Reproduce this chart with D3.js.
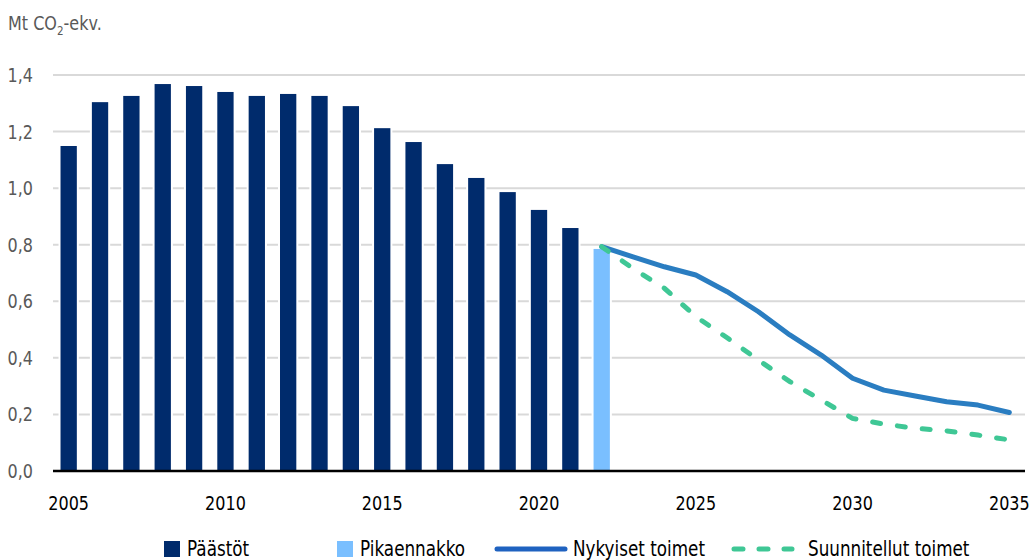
<!DOCTYPE html>
<html>
<head>
<meta charset="utf-8">
<script src="https://cdn.jsdelivr.net/npm/d3@7"></script>
<style>
  html, body { margin: 0; padding: 0; background: #fff; }
  svg { display: block; font-family: "DejaVu Sans", sans-serif; }
</style>
</head>
<body>
<div id="chart"></div>
<script>
// years on the x axis
const years = d3.range(2005, 2036);
const xTickYears = [2005, 2010, 2015, 2020, 2025, 2030, 2035];
const yTicks = [0, 0.2, 0.4, 0.6, 0.8, 1.0, 1.2, 1.4];

// Päästöt (historical emissions), 2005-2021
const emissionYears = d3.range(2005, 2022);
const emissions = [1.149, 1.304, 1.326, 1.368, 1.361, 1.340, 1.326, 1.333, 1.326,
                   1.290, 1.212, 1.163, 1.085, 1.036, 0.986, 0.923, 0.859];

// Pikaennakko (flash estimate)
const flashYears = [2022];
const flash = [0.785];

// scenarios 2022-2035
const scenarioYears = d3.range(2022, 2036);
const current = [0.793, 0.757, 0.722, 0.693, 0.634, 0.563, 0.481, 0.410,
                 0.328, 0.286, 0.265, 0.245, 0.233, 0.207];
const planned = [0.793, 0.716, 0.646, 0.546, 0.471, 0.392, 0.316, 0.251,
                 0.186, 0.166, 0.151, 0.142, 0.127, 0.110];

const width = 1033, height = 560;
const plot = { left: 53, right: 1025, top: 75, bottom: 471 };
const squeeze = 0.8; // no condensed font installed, so narrow the glyphs by hand

const svg = d3.select("#chart").append("svg")
  .attr("width", width)
  .attr("height", height);

const x = d3.scaleBand()
  .domain(years)
  .range([plot.left, plot.right])
  .paddingInner(0.48)
  .paddingOuter(0.24);

const y = d3.scaleLinear()
  .domain([0, 1.4])
  .range([plot.bottom, plot.top]);

const cx = yr => x(yr) + x.bandwidth() / 2;
const narrow = (tx, ty) => `translate(${tx},${ty}) scale(${squeeze},1)`;

// gridlines
svg.append("g")
  .selectAll("line")
  .data(yTicks.filter(d => d > 0))
  .enter().append("line")
  .attr("x1", plot.left)
  .attr("x2", plot.right)
  .attr("y1", d => y(d))
  .attr("y2", d => y(d))
  .attr("stroke", "#d9d9d9")
  .attr("stroke-width", 2);

// y labels
svg.append("g")
  .selectAll("text")
  .data(yTicks)
  .enter().append("text")
  .attr("transform", d => narrow(33, y(d)))
  .attr("dy", "0.35em")
  .attr("text-anchor", "end")
  .attr("fill", "#595959")
  .attr("font-size", "20px")
  .text(d => d3.format(".1f")(d).replace(".", ","));

// unit label
const unit = svg.append("text")
  .attr("transform", narrow(8, 30))
  .attr("fill", "#595959")
  .attr("font-size", "20px");
unit.append("tspan").text("Mt CO");
unit.append("tspan").attr("font-size", "13px").attr("dy", 5).text("2");
unit.append("tspan").attr("dy", -5).text("-ekv.");

// bars
function drawBars(yrs, vals, color) {
  const g = svg.append("g");
  const data = yrs.map((yr, i) => ({ yr, v: vals[i] }));
  // white halo that breaks gridlines around each bar
  g.selectAll("rect.halo")
    .data(data)
    .enter().append("rect")
    .attr("class", "halo")
    .attr("x", d => x(d.yr) - 2)
    .attr("y", d => y(d.v) - 2)
    .attr("width", x.bandwidth() + 4)
    .attr("height", d => y(0) - y(d.v) + 2)
    .attr("fill", "#fff");
  g.selectAll("rect.bar")
    .data(data)
    .enter().append("rect")
    .attr("class", "bar")
    .attr("x", d => x(d.yr))
    .attr("y", d => y(d.v))
    .attr("width", x.bandwidth())
    .attr("height", d => y(0) - y(d.v))
    .attr("fill", color);
}
drawBars(emissionYears, emissions, "#002b6c");
drawBars(flashYears, flash, "#7abfff");

// scenario lines
const line = d3.line()
  .x(d => cx(d.yr))
  .y(d => y(d.v));

svg.append("path")
  .datum(scenarioYears.map((yr, i) => ({ yr, v: current[i] })))
  .attr("d", line)
  .attr("fill", "none")
  .attr("stroke", "#2a7dc1")
  .attr("stroke-width", 5)
  .attr("stroke-linejoin", "round")
  .attr("stroke-linecap", "round");

svg.append("path")
  .datum(scenarioYears.map((yr, i) => ({ yr, v: planned[i] })))
  .attr("d", line)
  .attr("fill", "none")
  .attr("stroke", "#3fc795")
  .attr("stroke-width", 5)
  .attr("stroke-dasharray", "8,17")
  .attr("stroke-linecap", "round");

// x axis line
svg.append("line")
  .attr("x1", plot.left)
  .attr("x2", plot.right)
  .attr("y1", y(0))
  .attr("y2", y(0))
  .attr("stroke", "#000")
  .attr("stroke-width", 2.5);

// x labels
svg.append("g")
  .selectAll("text")
  .data(xTickYears)
  .enter().append("text")
  .attr("transform", d => narrow(cx(d), 510))
  .attr("text-anchor", "middle")
  .attr("fill", "#000")
  .attr("font-size", "20px")
  .text(d => d);

// legend
const legend = svg.append("g").attr("font-size", "21px").attr("fill", "#000");

legend.append("rect").attr("x", 164).attr("y", 541).attr("width", 16).attr("height", 16).attr("fill", "#002b6c");
legend.append("text").attr("transform", narrow(187, 556)).text("Päästöt");

legend.append("rect").attr("x", 337).attr("y", 541).attr("width", 16).attr("height", 16).attr("fill", "#7abfff");
legend.append("text").attr("transform", narrow(360, 556)).text("Pikaennakko");

legend.append("line").attr("x1", 497).attr("x2", 565).attr("y1", 549).attr("y2", 549)
  .attr("stroke", "#1f62c0").attr("stroke-width", 5).attr("stroke-linecap", "round");
legend.append("text").attr("transform", narrow(573, 556)).text("Nykyiset toimet");

legend.append("line").attr("x1", 734).attr("x2", 792).attr("y1", 549).attr("y2", 549)
  .attr("stroke", "#3fc795").attr("stroke-width", 5).attr("stroke-linecap", "round")
  .attr("stroke-dasharray", "9,16");
legend.append("text").attr("transform", narrow(808, 556)).text("Suunnitellut toimet");
</script>
</body>
</html>
